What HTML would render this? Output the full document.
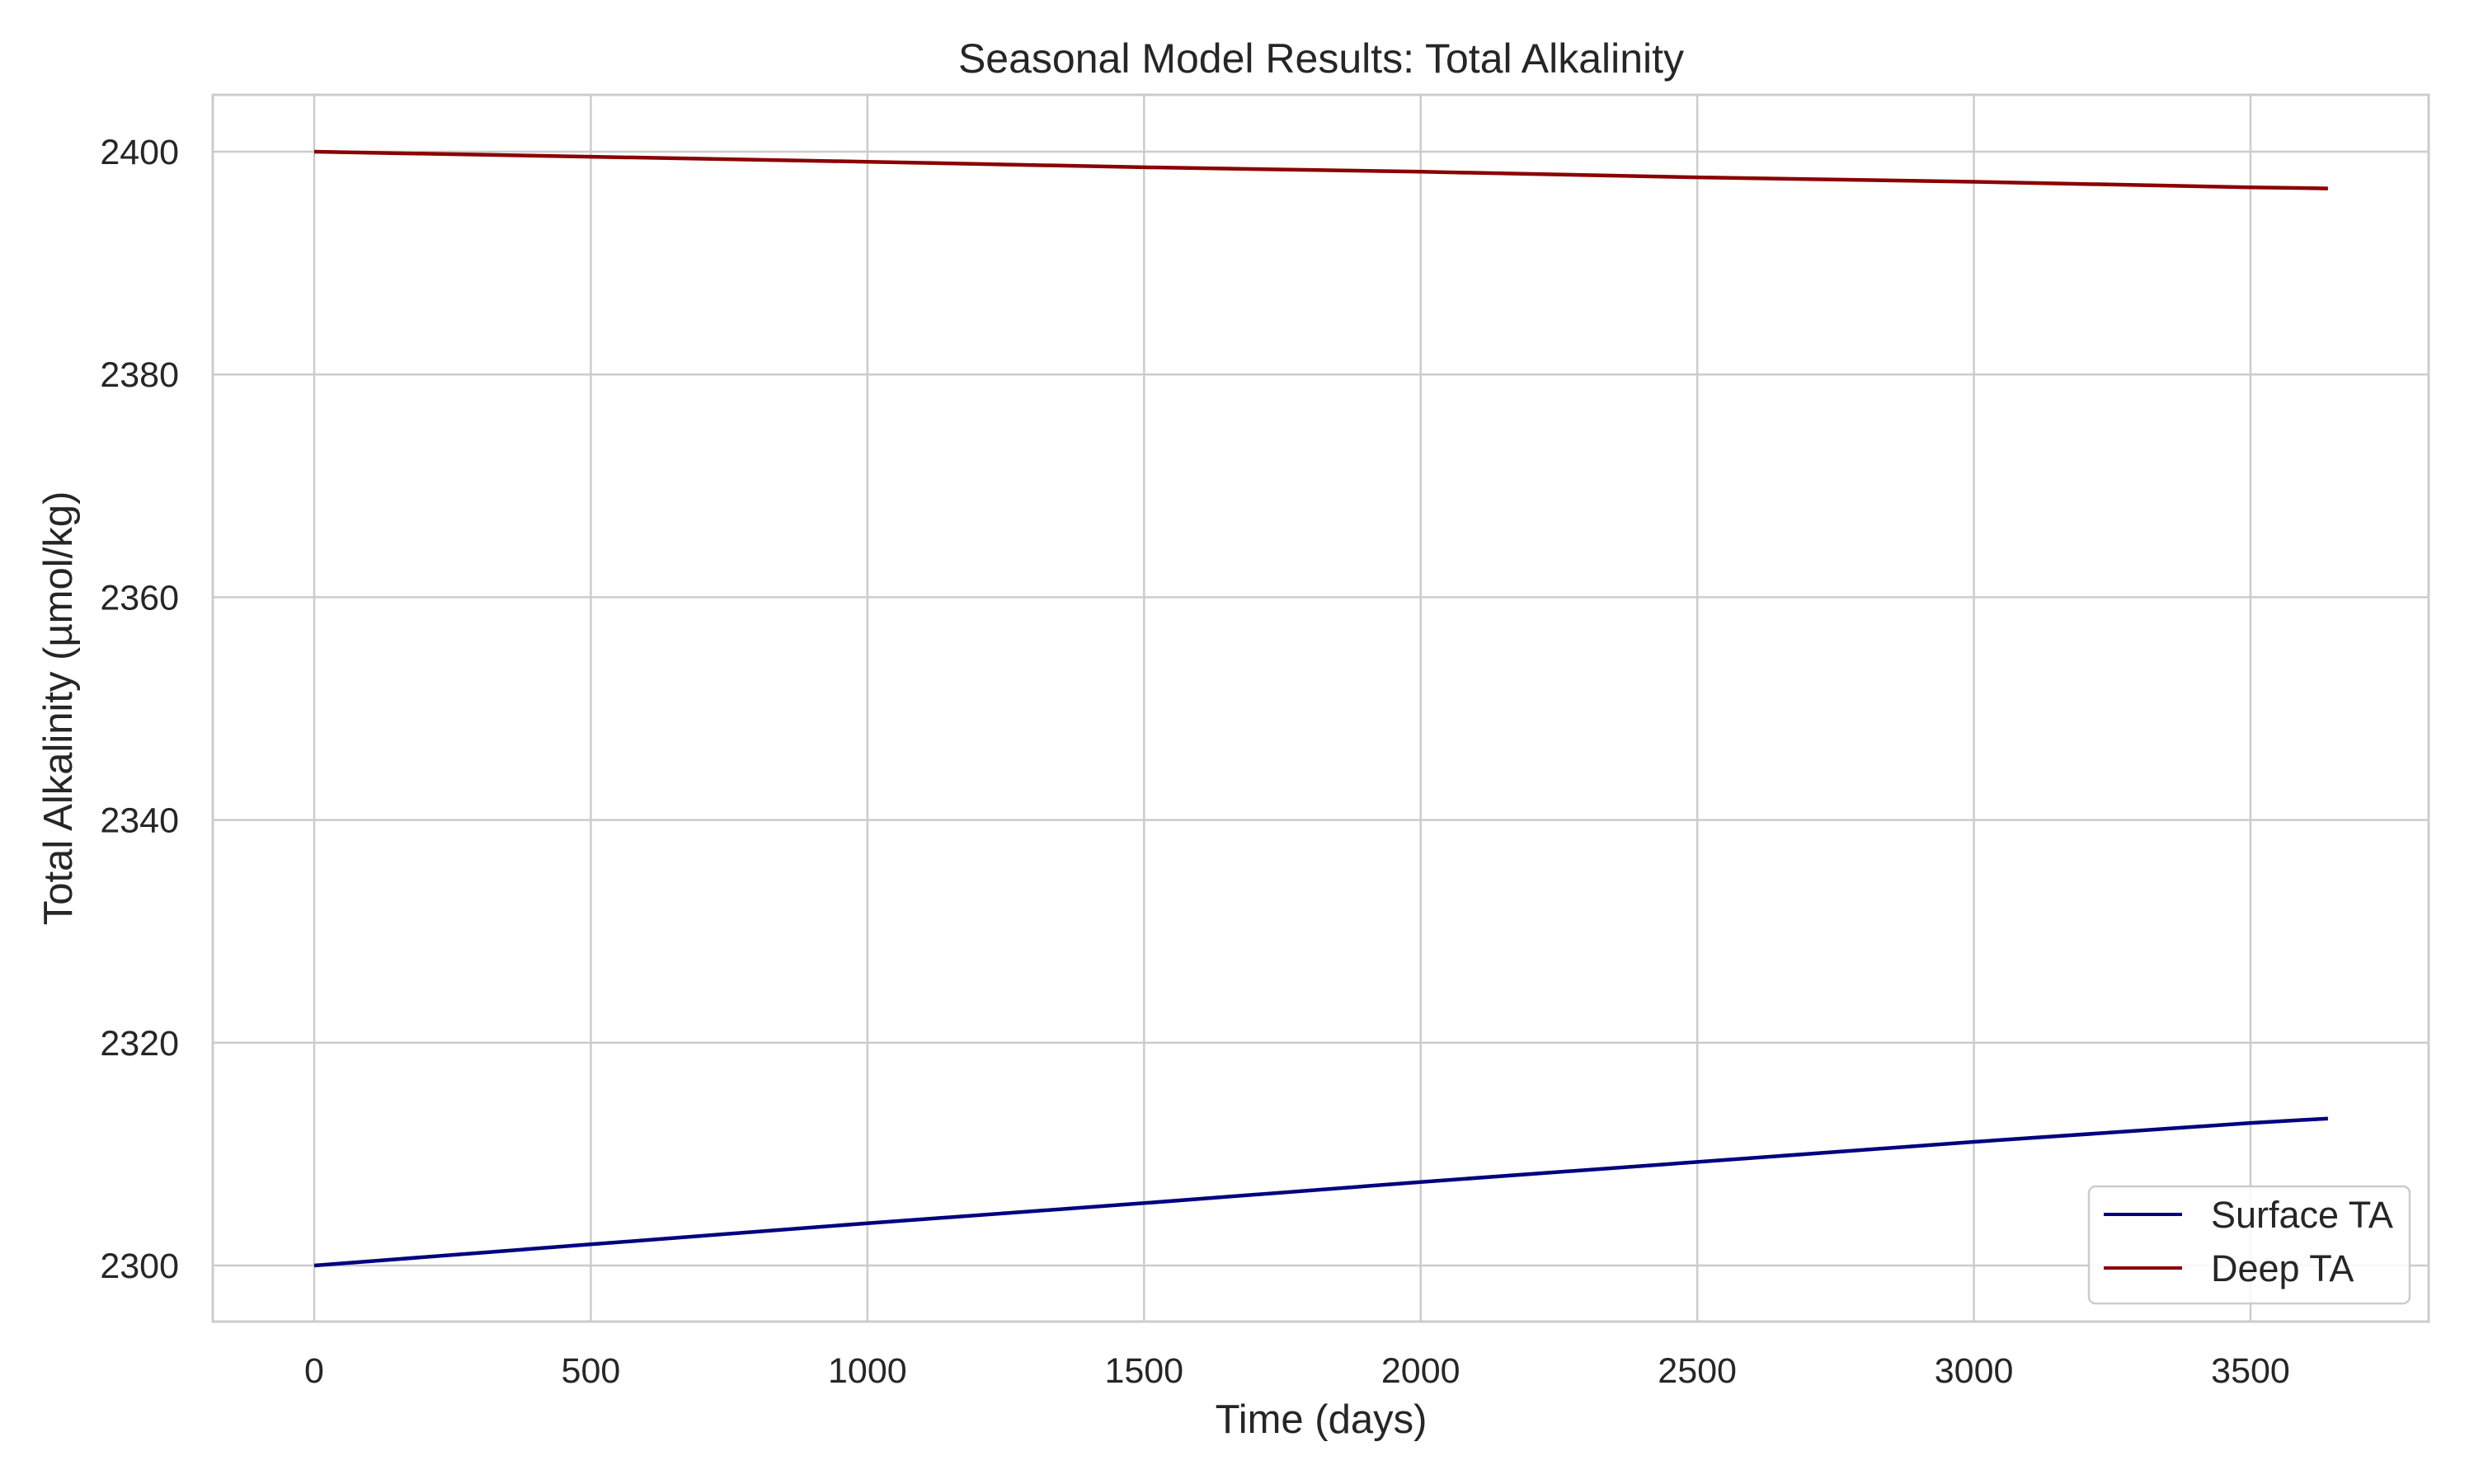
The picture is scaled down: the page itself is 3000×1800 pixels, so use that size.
<!DOCTYPE html>
<html><head><meta charset="utf-8"><style>
html,body{margin:0;padding:0;background:#fff;}
svg{display:block;font-family:"Liberation Sans",Arial,sans-serif;}
</style></head><body>
<svg id="chart" width="3000" height="1800" viewBox="0 0 3000 1800">
<rect width="3000" height="1800" fill="#fff"/>
<g id="grid"></g>
<g id="ticks"></g>
<g id="series"></g>
<rect x="258" y="115" width="2687" height="1488" fill="none" stroke="#cccccc" stroke-width="3"/>
<text x="1602" y="88" font-size="50" text-anchor="middle" fill="#262626">Seasonal Model Results: Total Alkalinity</text>
<text x="1602" y="1738" font-size="49" text-anchor="middle" fill="#262626">Time (days)</text>
<text transform="translate(87,859) rotate(-90)" font-size="49" text-anchor="middle" fill="#262626">Total Alkalinity (µmol/kg)</text>
<g>
<rect x="2533" y="1439" width="389" height="142" rx="8" fill="#fff" fill-opacity="0.85" stroke="#cccccc" stroke-width="2.5"/>
<line x1="2551" y1="1473" x2="2646" y2="1473" stroke="#000080" stroke-width="4"/>
<text x="2681" y="1489" font-size="45" fill="#262626">Surface TA</text>
<line x1="2551" y1="1538" x2="2646" y2="1538" stroke="#8b0000" stroke-width="4"/>
<text x="2681" y="1554" font-size="45" fill="#262626">Deep TA</text>
</g>
</svg>
<script>
const xTicks = [0,500,1000,1500,2000,2500,3000,3500];
const yTicks = [2300,2320,2340,2360,2380,2400];
const days = [0,500,1000,1500,2000,2500,3000,3500,3640];
const surfaceTA = [2300,2301.9,2303.8,2305.6,2307.5,2309.3,2311.1,2312.8,2313.2];
const deepTA = [2400,2399.55,2399.1,2398.6,2398.2,2397.7,2397.3,2396.8,2396.7];
const NS="http://www.w3.org/2000/svg";
function xs(v){return 381+(v-0)*(2729-381)/3500;}
function ys(v){return 1535-(v-2300)*(1535-184)/100;}
function mk(tag,attrs,parent){const e=document.createElementNS(NS,tag);for(const k in attrs)e.setAttribute(k,attrs[k]);parent.appendChild(e);return e;}
const grid=document.getElementById('grid'),ticks=document.getElementById('ticks'),series=document.getElementById('series');
xTicks.forEach(t=>{
  const l=mk('line',{x1:xs(t),x2:xs(t),y1:115,y2:1603,stroke:'#cccccc','stroke-width':2.5},grid);
  
  
  const tx=mk('text',{x:xs(t),y:1677,'font-size':43,'text-anchor':'middle',fill:'#262626'},ticks);
  tx.textContent=t;
  
  
});
yTicks.forEach(t=>{
  const l=mk('line',{x1:258,x2:2945,y1:ys(t),y2:ys(t),stroke:'#cccccc','stroke-width':2.5},grid);
  
  
  const tx=mk('text',{x:217,y:ys(t)+15,'font-size':43,'text-anchor':'end',fill:'#262626'},ticks);
  tx.textContent=t;
  
  
});
function line(vals,color,name){
  const d=vals.map((v,i)=>(i?'L':'M')+xs(days[i]).toFixed(1)+','+ys(v).toFixed(1)).join(' ');
  const p=mk('path',{d:d,fill:'none',stroke:color,'stroke-width':4.5,'stroke-linejoin':'round'},series);
  
  
}
line(surfaceTA,'#000080','surface-ta-line');
line(deepTA,'#8b0000','deep-ta-line');
</script>
</body></html>
